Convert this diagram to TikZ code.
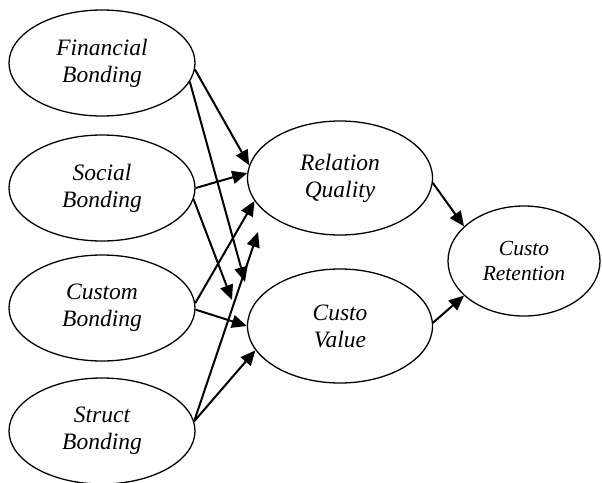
\documentclass[tikz,border=0pt]{standalone}
\usepackage{fontspec}
\setmainfont{Liberation Serif}
\usetikzlibrary{shapes.geometric, arrows.meta}
\tikzset{
  bonding/.style={ellipse, minimum width=186pt, minimum height=106pt, inner sep=0pt, align=center, draw=black, line width=1.3pt, font=\fontsize{23.5}{27}\selectfont\itshape},
  outcome/.style={ellipse, minimum width=185pt, minimum height=114pt, inner sep=0pt, align=center, draw=black, line width=1.3pt, font=\fontsize{23.5}{27}\selectfont\itshape},
  retention/.style={ellipse, minimum width=152pt, minimum height=110pt, inner sep=0pt, align=center, draw=black, line width=1.3pt, font=\fontsize{21.5}{25}\selectfont\itshape},
  arrow/.style={line width=2pt, -{Triangle[length=15pt,width=13pt]}}
}

\begin{document}
\begin{tikzpicture}[x=1pt, y=-1pt, node distance=123pt]
        \useasboundingbox (0,0) rectangle (602,482);

        % Bloque 1: tipos de vinculo
        \node (fin) [bonding] at (102,63) {Financial\\Bonding};
        \node (soc) [bonding, below of=fin, yshift=-2pt] {Social\\Bonding};
        \node (cus) [bonding, below of=soc, yshift=3pt] {Custom\\Bonding};
        \node (str) [bonding, below of=cus] {Struct\\Bonding};

        % Bloque 2: calidad y valor
        \node (rq) [outcome] at (340,178) {Relation\\Quality};
        \node (cv) [outcome] at (340,326) {Custo\\Value};

        % Bloque 3: retencion
        \node (cr) [retention] at (524,261) {Custo\\Retention};

        % Puntas sueltas
        \coordinate (fcv) at (245,282);
        \coordinate (scv) at (232,300);
        \coordinate (srq) at (258,232);

        % Flechas
        \draw [arrow] (fin.-4) -- (rq.172);
        \draw [arrow] (fin.-12) -- (fcv);
        \draw [arrow] (soc.0) -- (rq.177);
        \draw [arrow] (soc.-7) -- (scv);
        \draw [arrow] (cus.3) -- (rq.195);
        \draw [arrow] (cus.-1) -- (cv.180);
        \draw [arrow] (str.6) -- (srq);
        \draw [arrow] (str.6) -- (cv.196);
        \draw [arrow] (rq.-3) -- (cr.150);
        \draw [arrow] (cv.2) -- (cr.210);
\end{tikzpicture}
\end{document}
